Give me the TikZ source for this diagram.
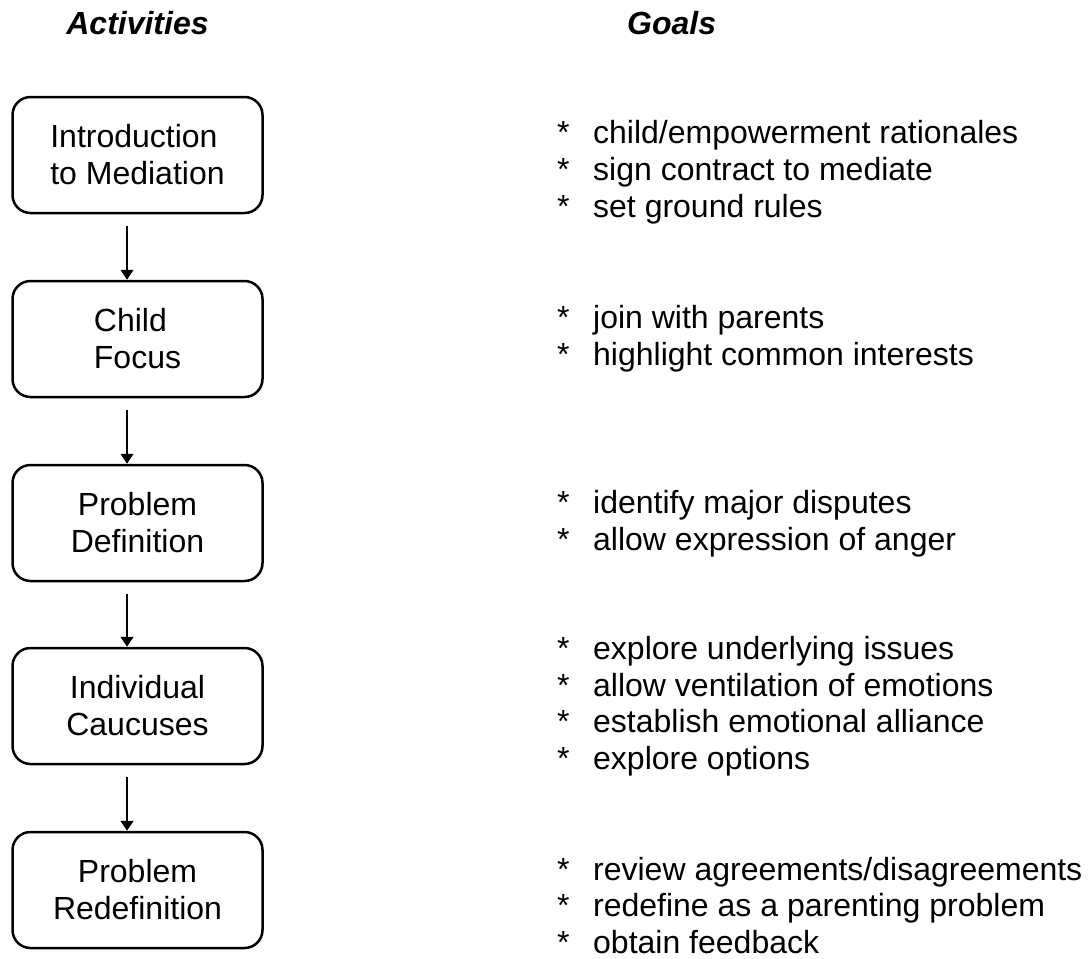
\documentclass[tikz,border=0pt]{standalone}
\usepackage{fontspec}
\setmainfont{Liberation Sans}
\usetikzlibrary{arrows.meta}

\begin{document}
\begin{tikzpicture}[x=1pt,y=1pt,
	activity/.style={shape=rectangle,draw=black,line width=2.5pt,rounded corners=18pt,minimum width=250pt,minimum height=116pt,align=center,font=\fontsize{32}{37}\selectfont},
	goal/.style={anchor=base west,inner sep=0pt,font=\fontsize{32}{37}\selectfont},
	heading/.style={inner sep=0pt,font=\fontsize{32}{37}\selectfont\bfseries\itshape},
	flow/.style={-{Triangle[length=10pt,width=13pt]},line width=1.3pt,shorten <=12pt}]
	
	\useasboundingbox (0,0) rectangle (1089,-958);
	
	\node[heading,anchor=base]      (act)   at (137.5,-35) {Activities};
	\node[heading,anchor=base west] (goals) at (627,-35)   {Goals};
	
	\node[activity,align=left] (intro)  at (137.5,-155) {Introduction\\to Mediation};
	\node[activity,align=left] (child)  at (137.5,-339) {Child\\Focus};
	\node[activity]            (def)    at (137.5,-523) {Problem\\Definition};
	\node[activity]            (caucus) at (137.5,-706) {Individual\\Caucuses};
	\node[activity]            (redef)  at (137.5,-890) {Problem\\Redefinition};
	
	\node[goal] (g11) at (557,-143)   {\makebox[36pt][l]{*}child/empowerment rationales};
	\node[goal] (g12) at (557,-180)   {\makebox[36pt][l]{*}sign contract to mediate};
	\node[goal] (g13) at (557,-217)   {\makebox[36pt][l]{*}set ground rules};
	
	\node[goal] (g21) at (557,-328)   {\makebox[36pt][l]{*}join with parents};
	\node[goal] (g22) at (557,-365)   {\makebox[36pt][l]{*}highlight common interests};
	
	\node[goal] (g31) at (557,-513)   {\makebox[36pt][l]{*}identify major disputes};
	\node[goal] (g32) at (557,-550)   {\makebox[36pt][l]{*}allow expression of anger};
	
	\node[goal] (g41) at (557,-659.5) {\makebox[36pt][l]{*}explore underlying issues};
	\node[goal] (g42) at (557,-696)   {\makebox[36pt][l]{*}allow ventilation of emotions};
	\node[goal] (g43) at (557,-732.5) {\makebox[36pt][l]{*}establish emotional alliance};
	\node[goal] (g44) at (557,-769)   {\makebox[36pt][l]{*}explore options};
	
	\node[goal] (g51) at (557,-880)   {\makebox[36pt][l]{*}review agreements/disagreements};
	\node[goal] (g52) at (557,-916.5) {\makebox[36pt][l]{*}redefine as a parenting problem};
	\node[goal] (g53) at (557,-953)   {\makebox[36pt][l]{*}obtain feedback};
	
	\path[flow] ([xshift=-10.5pt]intro.south)  edge ([xshift=-10.5pt]child.north);
	\path[flow] ([xshift=-10.5pt]child.south)  edge ([xshift=-10.5pt]def.north);
	\path[flow] ([xshift=-10.5pt]def.south)    edge ([xshift=-10.5pt]caucus.north);
	\path[flow] ([xshift=-10.5pt]caucus.south) edge ([xshift=-10.5pt]redef.north);
	
\end{tikzpicture}
\end{document}
